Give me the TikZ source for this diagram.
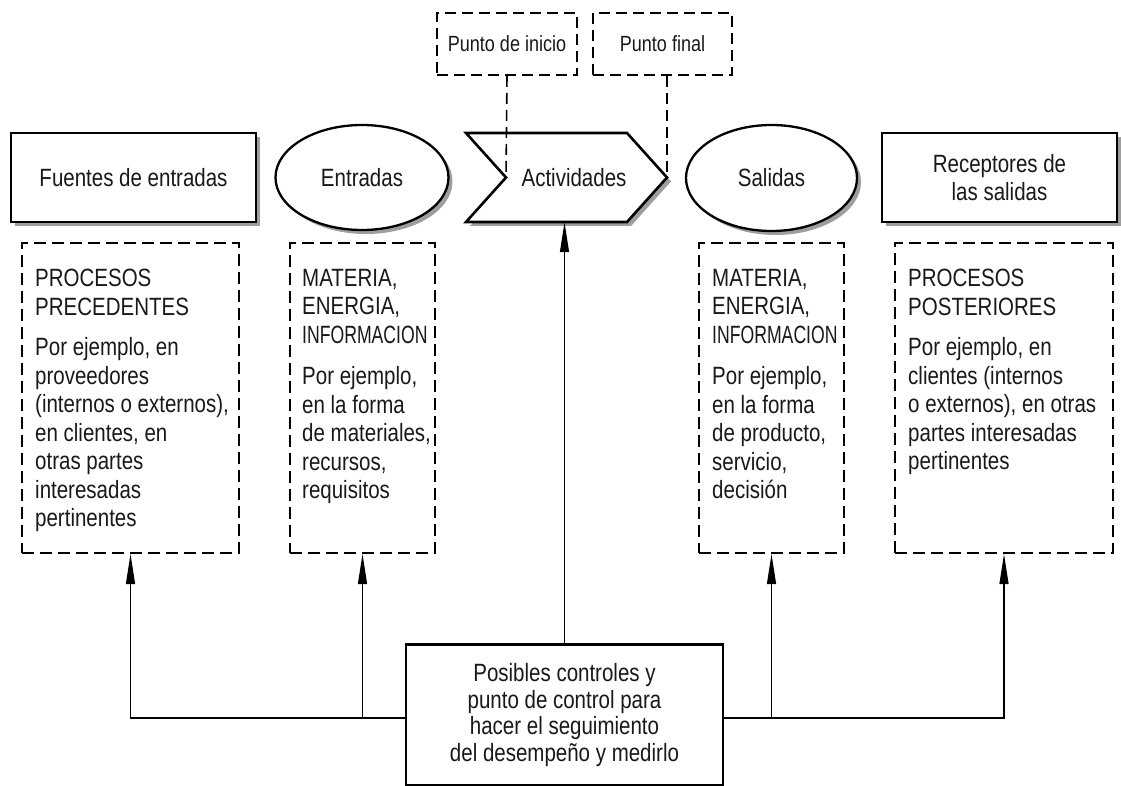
\documentclass[tikz,border=0pt]{standalone}
\usepackage{fontspec}
\usepackage{graphicx}
\setmainfont{Liberation Sans}[FakeStretch=0.82]
\usetikzlibrary{shapes.geometric,arrows.meta,shadows}
\newcommand{\narrowcaps}[1]{\scalebox{0.86}[1]{#1}}
\begin{document}
\begin{tikzpicture}[x=1pt,y=-1pt,
  every node/.style={font=\fontsize{25}{28.5}\selectfont, inner sep=0pt, text=black!90},
  shad/.style={drop shadow={shadow xshift=4pt,shadow yshift=-4pt,fill=black,opacity=0.38}},
  solidbox/.style={draw, rectangle, line width=2.6pt, fill=white, shad},
  ovalbox/.style={draw, ellipse, line width=2.3pt, fill=white, shad},
  dbox/.style={draw, rectangle, line width=2pt, dash pattern=on 12pt off 6pt},
  topbox/.style={draw, rectangle, line width=1.8pt, dash pattern=on 11pt off 6pt, font=\fontsize{22}{24}\selectfont},
  dcon/.style={line width=1.6pt, dash pattern=on 11pt off 6pt},
  arr/.style={line width=1.1pt, -{Triangle[length=30pt,width=9pt]}},
  inner/.style={anchor=north west, align=left}
]
\useasboundingbox (0,0) rectangle (1121,786);

% top row
\node[solidbox, minimum width=245pt, minimum height=89pt] (fu) at (133.5,177.5) {Fuentes de entradas};
\node[ovalbox, minimum width=173pt, minimum height=105pt] (en) at (362,177.5) {Entradas};
\path[draw, line width=2.6pt, fill=white, shad, line join=miter]
  (466,133) -- (627,133) -- (667,177.5) -- (627,222) -- (466,222) -- (506,177.5) -- cycle;
\coordinate (notch) at (506,177.5);
\coordinate (tip) at (667,177.5);
\node[minimum width=150pt, minimum height=89pt] (act) at (574,177.5) {Actividades};
\node[ovalbox, minimum width=171pt, minimum height=106pt] (sa) at (771.5,178) {Salidas};
\node[solidbox, minimum width=235pt, minimum height=89pt, align=center] (re) at (999.5,177.5) {Receptores de\\las salidas};

% top dashed labels
\node[topbox, minimum width=140pt, minimum height=62pt] (pi) at (507,44) {Punto de inicio};
\node[topbox, minimum width=139pt, minimum height=62pt] (pf) at (662.5,44) {Punto final};
\draw[dcon] (pi.south) -- (notch);
\draw[dcon] (pf.south -| tip) -- (tip);

% dashed detail boxes
\node[dbox, minimum width=217pt, minimum height=310pt] (d1) at (130.5,398) {};
\node[dbox, minimum width=145pt, minimum height=310pt] (d2) at (362.5,398) {};
\node[dbox, minimum width=145pt, minimum height=310pt] (d3) at (771.5,398) {};
\node[dbox, minimum width=218pt, minimum height=310pt] (d4) at (1004,398) {};

\node[inner] (t1) at (35,269) {PROCESOS\\PRECEDENTES\\[12pt]Por ejemplo, en\\proveedores\\(internos o externos),\\en clientes, en\\otras partes\\interesadas\\pertinentes};
\node[inner] (t2) at (302,269) {MATERIA,\\ENERGIA,\\\narrowcaps{INFORMACION}\\[13pt]Por ejemplo,\\en la forma\\de materiales,\\recursos,\\requisitos};
\node[inner] (t3) at (712,269) {MATERIA,\\ENERGIA,\\\narrowcaps{INFORMACION}\\[13pt]Por ejemplo,\\en la forma\\de producto,\\servicio,\\decisión};
\node[inner] (t4) at (908,269) {PROCESOS\\POSTERIORES\\[12pt]Por ejemplo, en\\clientes (internos\\o externos), en otras\\partes interesadas\\pertinentes};

% control box
\node[draw, rectangle, line width=2.6pt, fill=white, minimum width=317pt, minimum height=141pt, align=center,
      font=\fontsize{25}{26.7}\selectfont] (ctrl) at (564.5,715)
  {Posibles controles y\\punto de control para\\hacer el seguimiento\\del desempeño y medirlo};

\coordinate (hl) at (0,718);
\draw[arr] (ctrl.west |- hl) -| (d1.south);
\draw[arr] (d2.south |- hl) -- (d2.south);
\draw[arr] (ctrl.east |- hl) -| (d4.south);
\draw[arr] (d3.south |- hl) -- (d3.south);
\draw[arr] (ctrl.north) -- (ctrl.north |- act.south);
\end{tikzpicture}
\end{document}
